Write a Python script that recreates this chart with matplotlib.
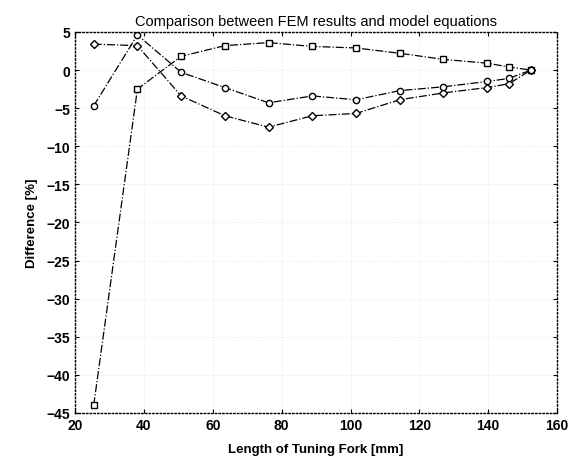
import matplotlib
matplotlib.use('Agg')
import matplotlib.pyplot as plt

# fork length in mm (1" .. 6" in quarter/half-inch steps)
length_mm = [25.4, 38.1, 50.8, 63.5, 76.2, 88.9, 101.6, 114.3, 127.0, 139.7, 146.05, 152.4]

# difference (%) for the three model equations
diff_square = [-44.0, -2.5, 1.8, 3.2, 3.6, 3.1, 2.9, 2.2, 1.4, 0.9, 0.4, 0.0]
diff_diamond = [3.4, 3.2, -3.4, -6.0, -7.5, -6.0, -5.7, -3.9, -3.0, -2.3, -1.8, 0.0]
diff_circle = [-4.7, 4.6, -0.3, -2.3, -4.3, -3.4, -3.9, -2.7, -2.2, -1.5, -1.1, 0.0]

xticks = [20, 40, 60, 80, 100, 120, 140, 160]
yticks = [5, 0, -5, -10, -15, -20, -25, -30, -35, -40, -45]

plt.rcParams['font.family'] = ['Liberation Sans', 'DejaVu Sans']

fig = plt.figure(figsize=(5.69, 4.64), dpi=100)
ax = fig.add_axes([0.132, 0.108, 0.847, 0.821])

line_kw = dict(color='black', linestyle='-.', linewidth=0.9,
               markerfacecolor='white', markeredgecolor='black', markersize=4.5)
ax.plot(length_mm, diff_square, marker='s', **line_kw)
ax.plot(length_mm, diff_diamond, marker='D', **line_kw)
ax.plot(length_mm, diff_circle, marker='o', **line_kw)

ax.set_xlim(20, 160)
ax.set_ylim(-45, 5)
ax.set_xticks(xticks)
ax.set_yticks(yticks)
ax.tick_params(direction='in', length=3, labelsize=10, width=0.8,
               top=True, right=True)
for lbl in ax.get_xticklabels() + ax.get_yticklabels():
    lbl.set_fontweight('bold')

# scanned original only keeps faint traces of the dotted grid
ax.grid(True, linestyle=':', color='#dddddd', linewidth=0.5)
for sp in ax.spines.values():
    sp.set_linestyle(':')
    sp.set_linewidth(1.0)

ax.set_title('Comparison between FEM results and model equations', fontsize=10.5, pad=5)
ax.set_xlabel('Length of Tuning Fork [mm]', fontsize=9.5, fontweight='bold', labelpad=8)
ax.set_ylabel('Difference [%]', fontsize=9.5, fontweight='bold', labelpad=6)

fig.savefig('out.png', dpi=100)
